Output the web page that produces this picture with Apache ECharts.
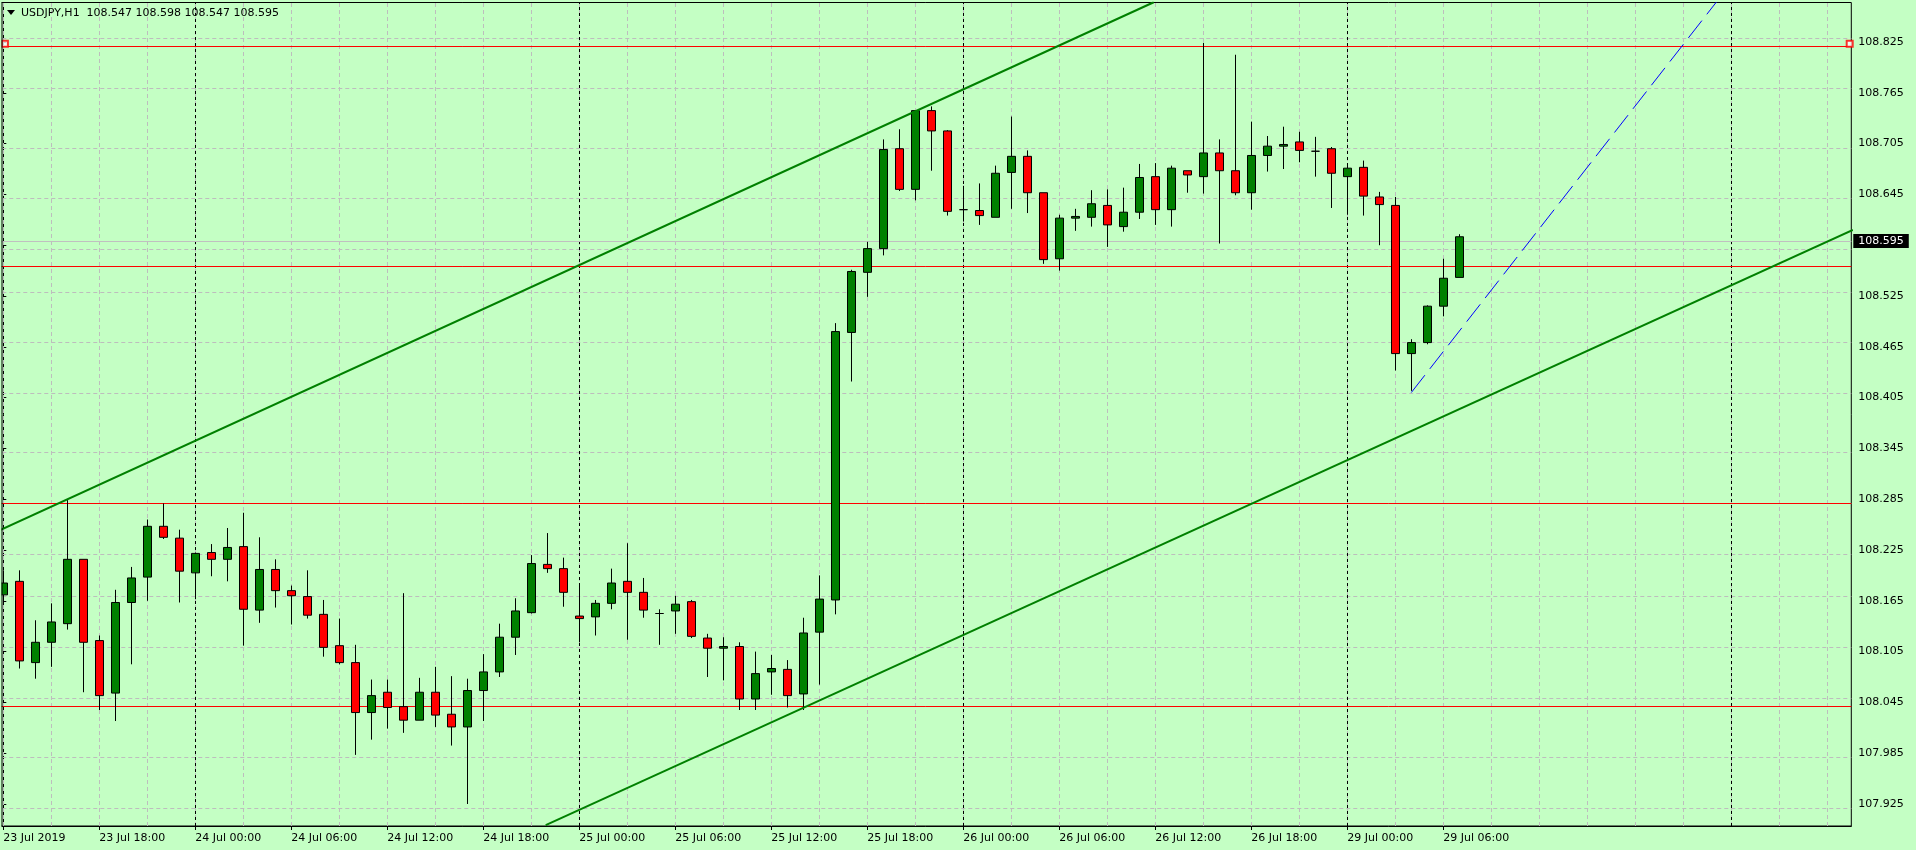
<!DOCTYPE html>
<html><head><meta charset="utf-8">
<style>html,body{margin:0;padding:0;background:#c4ffc4;}#c{width:1916px;height:850px;}</style>
<script src="https://cdn.jsdelivr.net/npm/echarts@6.0.0/dist/echarts.min.js"></script>
</head><body><div id="c"></div>
<script>
const symbolName = 'USDJPY,H1';
// hourly candles, 23 Jul 12:00 .. 29 Jul 07:00
const opens = [108.172,108.188,108.092,108.116,108.138,108.214,108.118,108.056,108.163,108.193,
108.253,108.239,108.198,108.222,108.214,108.229,108.154,108.202,108.177,108.170,
108.149,108.112,108.092,108.033,108.057,108.040,108.024,108.057,108.031,108.016,
108.059,108.081,108.122,108.151,108.208,108.203,108.147,108.146,108.162,108.188,
108.175,108.150,108.153,108.164,108.121,108.109,108.111,108.049,108.081,108.084,
108.055,108.128,108.166,108.482,108.553,108.581,108.699,108.651,108.744,108.720,
108.627,108.626,108.618,108.671,108.690,108.647,108.569,108.617,108.618,108.632,
108.607,108.624,108.666,108.627,108.673,108.666,108.694,108.673,108.647,108.691,
108.702,108.707,108.696,108.699,108.666,108.677,108.642,108.632,108.457,108.470,
108.513,108.547];
const closes = [108.186,108.094,108.116,108.140,108.214,108.116,108.053,108.163,108.192,108.253,
108.240,108.200,108.221,108.214,108.228,108.155,108.202,108.177,108.171,108.148,
108.110,108.092,108.033,108.053,108.039,108.024,108.057,108.030,108.016,108.059,
108.081,108.122,108.153,108.209,108.203,108.175,108.144,108.162,108.186,108.175,
108.154,108.150,108.161,108.123,108.109,108.111,108.049,108.079,108.085,108.053,
108.127,108.167,108.483,108.554,108.581,108.698,108.651,108.744,108.720,108.625,
108.627,108.620,108.670,108.690,108.647,108.568,108.617,108.619,108.634,108.609,
108.624,108.665,108.627,108.676,108.668,108.694,108.673,108.647,108.691,108.702,
108.704,108.697,108.696,108.670,108.676,108.643,108.633,108.457,108.470,108.513,
108.546,108.595];
const lows = [108.162,108.085,108.073,108.087,108.131,108.057,108.036,108.023,108.090,108.165,
108.238,108.163,108.167,108.194,108.188,108.112,108.139,108.157,108.137,108.144,
108.099,108.090,107.983,108.001,108.014,108.009,108.024,108.016,107.994,107.925,
108.023,108.075,108.101,108.150,108.198,108.158,108.116,108.124,108.155,108.119,
108.145,108.113,108.126,108.121,108.075,108.071,108.036,108.036,108.054,108.039,
108.036,108.066,108.149,108.424,108.524,108.573,108.649,108.638,108.673,108.620,
108.613,108.609,108.618,108.628,108.623,108.563,108.555,108.602,108.607,108.583,
108.601,108.616,108.609,108.607,108.647,108.646,108.587,108.644,108.627,108.672,
108.675,108.683,108.666,108.629,108.621,108.620,108.585,108.437,108.413,108.468,
108.501,108.547];
const highs = [108.201,108.201,108.142,108.162,108.284,108.214,108.124,108.178,108.205,108.261,
108.280,108.249,108.222,108.232,108.251,108.269,108.240,108.214,108.183,108.201,
108.166,108.144,108.113,108.072,108.072,108.174,108.074,108.087,108.076,108.073,
108.102,108.138,108.168,108.219,108.245,108.216,108.184,108.166,108.203,108.233,
108.192,108.155,108.171,108.166,108.126,108.122,108.116,108.105,108.101,108.095,
108.145,108.195,108.493,108.556,108.589,108.710,108.722,108.744,108.749,108.721,
108.655,108.658,108.679,108.737,108.697,108.647,108.621,108.628,108.650,108.651,
108.653,108.681,108.682,108.679,108.673,108.824,108.710,108.810,108.731,108.714,
108.725,108.719,108.713,108.701,108.679,108.685,108.648,108.642,108.474,108.514,
108.569,108.598];
const yTicks = [107.925,107.985,108.045,108.105,108.165,108.225,108.285,108.345,108.405,108.465,108.525,108.585,108.645,108.705,108.765,108.825];
const xTickLabels = ['23 Jul 2019','23 Jul 18:00','24 Jul 00:00','24 Jul 06:00','24 Jul 12:00','24 Jul 18:00','25 Jul 00:00','25 Jul 06:00','25 Jul 12:00','25 Jul 18:00','26 Jul 00:00','26 Jul 06:00','26 Jul 12:00','26 Jul 18:00','29 Jul 00:00','29 Jul 06:00'];
const sessions = [['23 Jul',12,24],['24 Jul',0,24],['25 Jul',0,24],['26 Jul',0,24],['29 Jul',0,24],['30 Jul',0,8]];
const daySeparators = [12,36,60,84,108];
const redLevels = [108.823,108.556,108.280,108.036];
const redHandles = [[0.1,108.823],[115.4,108.823]];
const currentPrice = 108.595;
const upperChannel = [[-0.5,108.246],[71.9,108.872]];
const lowerChannel = [[33.9,107.900],[115.6,108.603]];
const blueLine = [[88.0,108.411],[107.1,108.873]];

const categories = [];
sessions.forEach(s => { for (let h = s[1]; h < s[2]; h++) categories.push(s[0] + ' ' + String(h).padStart(2,'0') + ':00'); });
const nCandles = opens.length;
const gridV = [];
for (let i = 0; i < categories.length; i += 3) gridV.push(i);

const BG = '#c4ffc4';
const FONT = 'DejaVu Sans';
const noLabel = {show:false};
function hostSeries(name, ml, z){
  return {name, type:'line', xAxisIndex:1, yAxisIndex:0, data:[], z, clip:false, silent:true, animation:false,
    markLine: Object.assign({symbol:'none', silent:true, animation:false, label:noLabel, z:z}, ml)};
}
const chart = echarts.init(document.getElementById('c'), null, {renderer:'canvas'});
chart.setOption({
  backgroundColor: BG,
  animation: false,
  grid: {left: -4.7, right: 64.7, top: 2.5, bottom: 24, show: true, borderColor: '#000', borderWidth: 1, backgroundColor: 'transparent', containLabel:false, outerBoundsMode:'none'},
  xAxis: [{
    type:'category', data: categories, boundaryGap: true, position:'bottom',
    axisLine:{show:true, lineStyle:{color:'#000', width:1}},
    axisTick:{show:true, alignWithLabel:true, length:4, lineStyle:{color:'#000'}, interval:(i)=> i % 6 === 0 && i < nCandles},
    axisLabel:{show:true, interval:5, align:'left', margin:7, color:'#000', fontFamily:FONT, fontSize:11, hideOverlap:false,
      formatter:(v, i)=> (i % 6 === 0 && i/6 < xTickLabels.length) ? xTickLabels[i/6] : ''},
    splitLine:{show:false}
  },{
    type:'value', min:-0.5, max:115.5, show:false, splitLine:{show:false}
  }],
  yAxis: [{
    type:'value', position:'right', min:107.899, max:108.8717, scale:true,
    axisLine:{show:true, lineStyle:{color:'#000'}},
    axisTick:{show:true, length:3, customValues: yTicks, lineStyle:{color:'#000'}},
    axisLabel:{show:true, customValues: yTicks, margin:7, color:'#000', fontFamily:FONT, fontSize:11, hideOverlap:false, padding:[3,0,0,0], formatter:(v)=> v.toFixed(3)},
    splitLine:{show:false}
  }],
  series: [
    hostSeries('gridH', {lineStyle:{color:'#bdbdbd', type:[4,3], width:1}, data: yTicks.map(v=>({yAxis:v}))}, 1),
    hostSeries('gridV', {lineStyle:{color:'#bdbdbd', type:[4,3], width:1}, data: gridV.map(v=>({xAxis:v}))}, 1),
    hostSeries('days', {lineStyle:{color:'#000', type:[3,3], width:1}, data: daySeparators.map(v=>({xAxis:v}))}, 1),
    hostSeries('levels', {lineStyle:{color:'#ff0000', type:'solid', width:1}, data: redLevels.map(v=>({yAxis:v}))}, 2),
    hostSeries('price', {lineStyle:{color:'#c0c0c0', type:'solid', width:1},
      label:{show:true, position:'end', distance:2, formatter: ()=> currentPrice.toFixed(3), color:'#fff', backgroundColor:'#000', padding:[2,5,1,5], fontFamily:FONT, fontSize:11},
      data:[{yAxis: currentPrice}]}, 2),
    {name:'candles', type:'candlestick', xAxisIndex:0, yAxisIndex:0, z:3, animation:false, barWidth:9,
      emphasis:{disabled:true},
      itemStyle:{color:'#008000', color0:'#ff0000', borderColor:'#000', borderColor0:'#000', borderColorDoji:'#000', borderWidth:1},
      data: opens.map((o,i)=>[o, closes[i], lows[i], highs[i]])},
    {name:'handles', type:'scatter', xAxisIndex:1, yAxisIndex:0, z:5, symbol:'emptyRect', symbolSize:6, silent:true, itemStyle:{color:'#ff0000'}, data: redHandles},
    {name:'upper', type:'line', xAxisIndex:1, yAxisIndex:0, z:4, symbol:'none', clip:true, silent:true, lineStyle:{color:'#008000', width:2}, data: upperChannel},
    {name:'lower', type:'line', xAxisIndex:1, yAxisIndex:0, z:4, symbol:'none', clip:true, silent:true, lineStyle:{color:'#008000', width:2}, data: lowerChannel},
    {name:'blue', type:'line', xAxisIndex:1, yAxisIndex:0, z:4, symbol:'none', clip:true, silent:true, lineStyle:{color:'#0000ff', width:1, type:[22,8]}, data: blueLine}
  ],
  graphic: [
    {type:'rect', z:100, shape:{x:-10, y:0, width:11.5, height:827}, style:{fill:BG}, silent:true},
    {type:'line', z:101, shape:{x1:2, y1:2.5, x2:2, y2:826}, style:{stroke:'#000', lineWidth:1}, silent:true},
    {type:'polygon', z:101, shape:{points:[[7,10],[15,10],[11,15]]}, style:{fill:'#000'}, silent:true},
    {type:'text', z:101, x:21, y:13, silent:true, style:{
      text: symbolName + '  ' + [opens[nCandles-1], highs[nCandles-1], lows[nCandles-1], closes[nCandles-1]].map(v=>v.toFixed(3)).join(' '),
      font: '11px "DejaVu Sans"', fill:'#000', verticalAlign:'middle', align:'left'}}
  ]
});
</script></body></html>
